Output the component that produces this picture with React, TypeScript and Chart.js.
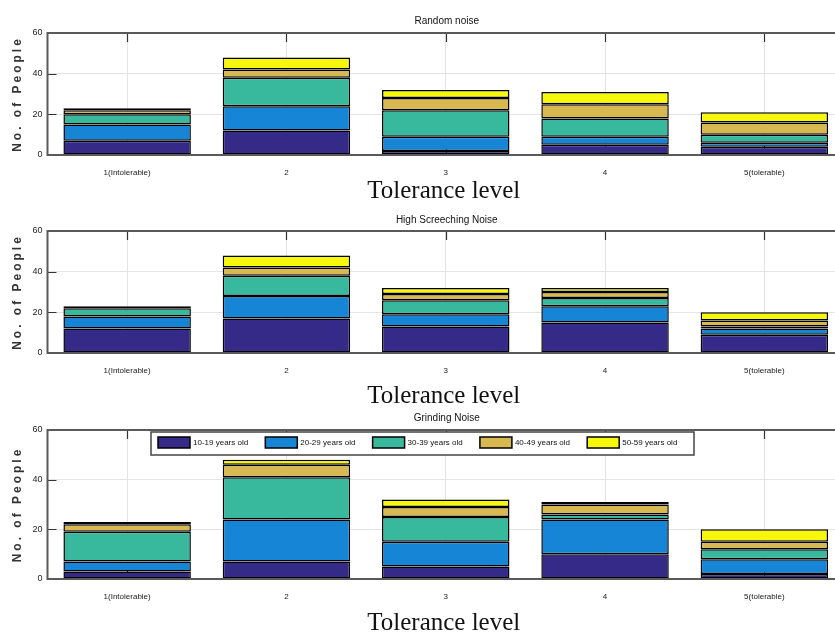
import React, { useEffect, useRef } from "react";
import { Chart, registerables } from "chart.js";

Chart.register(...registerables);

// ---------- data ----------
const categories = ["1(Intolerable)", "2", "3", "4", "5(tolerable)"];
const ageGroups = ["10-19 years old", "20-29 years old", "30-39 years old", "40-49 years old", "50-59 years old"];
const groupColors = ["#352a87", "#1685d6", "#38b89c", "#d8b850", "#f7f70c"];
const panelTitles = ["Random noise", "High Screeching Noise", "Grinding Noise"];
const xAxisLabel = "Tolerance level";
const yAxisLabel = "No. of People";
const yTickValues = [0, 20, 40, 60];

// Random noise
const random10to19 = [7, 12, 2, 5, 4];
const random20to29 = [8, 12, 7, 4, 2];
const random30to39 = [5, 14, 13, 9, 4];
const random40to49 = [2, 4, 6, 7, 6];
const random50to59 = [1, 6, 4, 6, 5];

// High screeching noise
const screech10to19 = [12, 17, 13, 15, 9];
const screech20to29 = [6, 11, 6, 8, 3];
const screech30to39 = [4, 10, 7, 4, 1];
const screech40to49 = [0, 4, 3, 3, 3];
const screech50to59 = [1, 6, 3, 2, 4];

// Grinding noise
const grind10to19 = [3, 7, 5, 10, 2];
const grind20to29 = [4, 17, 10, 14, 6];
const grind30to39 = [12, 17, 10, 2, 4];
const grind40to49 = [3, 5, 4, 4, 3];
const grind50to59 = [1, 2, 3, 1, 5];

const panelSeries = [
  [random10to19, random20to29, random30to39, random40to49, random50to59],
  [screech10to19, screech20to29, screech30to39, screech40to49, screech50to59],
  [grind10to19, grind20to29, grind30to39, grind40to49, grind50to59],
];

// ---------- layout ----------
const CANVAS_W = 846;
const panels = [
  { top: 0, height: 203, plotTop: 33, plotBottom: 155, titleY: 21, xLabelBase: 198, legend: false },
  { top: 203, height: 202, plotTop: 28, plotBottom: 150, titleY: 17, xLabelBase: 200, legend: false },
  { top: 405, height: 228, plotTop: 25, plotBottom: 174, titleY: 13, xLabelBase: 225, legend: true },
];

function makeDecor(title: string, p: any) {
  return {
    id: "decor",
    beforeDatasetsDraw(chart: any) {
      const { ctx, chartArea: a, scales } = chart;
      ctx.save();
      ctx.strokeStyle = "#333";
      ctx.lineWidth = 1.2;
      ctx.beginPath();
      categories.forEach((_, i) => {
        const px = Math.round(scales.x.getPixelForValue(i)) + 0.5;
        ctx.moveTo(px, a.top);
        ctx.lineTo(px, a.top + 9);
        ctx.moveTo(px, a.bottom);
        ctx.lineTo(px, a.bottom - 9);
      });
      yTickValues.forEach((v) => {
        const py = Math.round(scales.y.getPixelForValue(v)) + 0.5;
        ctx.moveTo(a.left, py);
        ctx.lineTo(a.left + 9, py);
        ctx.moveTo(a.right, py);
        ctx.lineTo(a.right - 9, py);
      });
      ctx.stroke();
      ctx.restore();
    },
    afterDatasetsDraw(chart: any) {
      const { ctx, chartArea: a } = chart;
      ctx.save();
      ctx.strokeStyle = "#5a5a5a";
      ctx.lineWidth = 2;
      ctx.strokeRect(a.left, a.top, a.right - a.left, a.bottom - a.top);

      if (p.legend) {
        const bx = 151, by = a.top + 2, bw = 543, bh = 23;
        ctx.fillStyle = "#ffffff";
        ctx.fillRect(bx, by, bw, bh);
        ctx.strokeStyle = "#444";
        ctx.lineWidth = 1.5;
        ctx.strokeRect(bx, by, bw, bh);
        ctx.font = "8px 'Liberation Sans', Arial, sans-serif";
        ctx.textBaseline = "middle";
        ctx.textAlign = "left";
        chart.data.datasets.forEach((ds: any, i: number) => {
          const sx = 158 + i * 107.3;
          const sy = by + 5;
          ctx.fillStyle = ds.backgroundColor;
          ctx.fillRect(sx, sy, 32, 11);
          ctx.strokeStyle = "#000";
          ctx.lineWidth = 1.5;
          ctx.strokeRect(sx, sy, 32, 11);
          ctx.fillStyle = "#111";
          ctx.fillText(ds.label, sx + 35, sy + 6);
        });
      }
      ctx.restore();
    },
    afterDraw(chart: any) {
      const { ctx, chartArea: a } = chart;
      const cx = (a.left + a.right) / 2;
      ctx.save();
      ctx.fillStyle = "#111";
      ctx.textAlign = "center";
      ctx.textBaseline = "middle";
      ctx.font = "10px 'Liberation Sans', Arial, sans-serif";
      ctx.fillText(title, cx + 1, p.titleY);

      ctx.textBaseline = "alphabetic";
      ctx.font = "25px 'Liberation Serif', 'Times New Roman', serif";
      ctx.fillText(xAxisLabel, cx - 2, p.xLabelBase);

      ctx.translate(18, (a.top + a.bottom) / 2);
      ctx.rotate(-Math.PI / 2);
      ctx.textBaseline = "middle";
      ctx.font = "bold 12px 'Liberation Sans', Arial, sans-serif";
      (ctx as any).letterSpacing = "3px";
      ctx.fillStyle = "#333";
      ctx.fillText(yAxisLabel, 0, 0);
      ctx.restore();
    },
  };
}

function Panel({ index }: { index: number }) {
  const ref = useRef<HTMLCanvasElement | null>(null);
  const p = panels[index];
  useEffect(() => {
    if (!ref.current) return;
    const series = panelSeries[index];
    const chart = new Chart(ref.current, {
      type: "bar",
      data: {
        labels: categories,
        datasets: series.map((vals, i) => ({
          label: ageGroups[i],
          data: vals,
          backgroundColor: groupColors[i],
          borderColor: "#000000",
          borderWidth: 1.5,
          borderSkipped: false,
          categoryPercentage: 1,
          barPercentage: 0.8,
        })),
      },
      options: {
        responsive: false,
        maintainAspectRatio: false,
        animation: false,
        layout: { padding: { top: p.plotTop, right: 2, left: 0, bottom: 0 } },
        plugins: { legend: { display: false }, title: { display: false }, tooltip: { enabled: false } },
        scales: {
          x: {
            stacked: true,
            grid: { display: true, offset: false, color: "#e4e4e4", lineWidth: 1, drawTicks: false },
            border: { display: false },
            ticks: {
              padding: 13,
              color: "#222",
              font: { size: 8, family: "'Liberation Sans', Arial, sans-serif" },
              maxRotation: 0,
              autoSkip: false,
            },
            afterFit: (s: any) => {
              s.height = p.height - p.plotBottom;
            },
          },
          y: {
            stacked: true,
            min: 0,
            max: 60,
            grid: { display: true, color: "#e4e4e4", lineWidth: 1, drawTicks: false },
            border: { display: false },
            ticks: {
              stepSize: 20,
              padding: 5,
              color: "#222",
              font: { size: 9, family: "'Liberation Sans', Arial, sans-serif" },
            },
            afterFit: (s: any) => {
              s.width = 47.5;
            },
          },
        },
      },
      plugins: [makeDecor(panelTitles[index], p)],
    } as any);
    return () => chart.destroy();
  }, [index]);
  return (
    <canvas
      ref={ref}
      width={CANVAS_W}
      height={p.height}
      style={{ position: "absolute", left: 0, top: p.top, width: CANVAS_W, height: p.height }}
    />
  );
}

export default function App() {
  return (
    <div
      style={{
        position: "fixed",
        left: 0,
        top: 0,
        width: 835,
        height: 633,
        overflow: "hidden",
        background: "#ffffff",
      }}
    >
      <Panel index={0} />
      <Panel index={1} />
      <Panel index={2} />
    </div>
  );
}
